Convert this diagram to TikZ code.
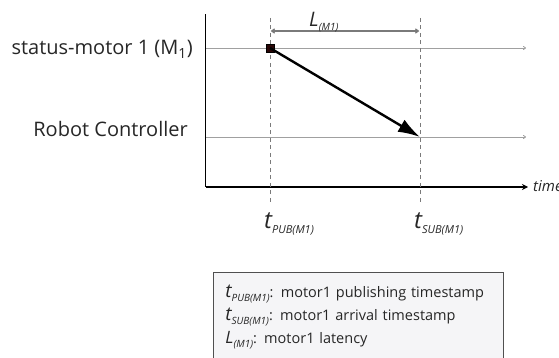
\documentclass[tikz,border=0pt]{standalone}
\usepackage{fontspec}
\setmainfont{Open Sans}
\usetikzlibrary{arrows.meta, positioning}
\definecolor{TrackGray}{HTML}{A0A0A0}
\definecolor{GuideGray}{HTML}{7A7A7A}
\definecolor{MarkBrown}{HTML}{2A0606}
\definecolor{BoxFill}{HTML}{F5F5F7}
\definecolor{BoxEdge}{HTML}{505050}
\hyphenpenalty=10000
% base letter, subscript, base size, subscript size, drop
\newcommand{\tsub}[5]{{\fontsize{#3}{#3}\selectfont\itshape #1}%
  \raisebox{-#5}{\fontsize{#4}{#4}\selectfont\itshape #2}}

\begin{document}
\begin{tikzpicture}[x=1pt, y=-1pt,
  actor/.style={anchor=base east, inner sep=0pt, font=\fontsize{20}{24}\selectfont, text=black!85},
  stamp/.style={anchor=base west, inner sep=0pt, text=black!85},
  track/.style={-{To[length=3pt, width=4pt]}, color=TrackGray, line width=0.8pt},
  axis/.style={-{Stealth[length=6pt, width=6pt]}, line width=1.3pt, black},
  guide/.style={color=GuideGray, line width=0.8pt, dash pattern=on 4pt off 3.5pt},
  span/.style={{To[length=4pt, width=5pt]}-{To[length=4pt, width=5pt]}, color=GuideGray, line width=1.2pt},
  msg/.style={-{Latex[length=22pt, width=14pt]}, line width=2.4pt, black},
  legend/.style={draw=BoxEdge, fill=BoxFill, line width=0.8pt, anchor=north west,
    align=left, text width=266pt, inner xsep=12pt, inner ysep=13pt,
    font=\fontsize{14.5}{23}\selectfont, text=black!85}
]
\useasboundingbox (0,0) rectangle (559,358);

% axes
\coordinate (origin) at (205.5,187);
\coordinate (ytop)   at (205.5,14);
\coordinate (xend)   at (528,187);
\draw[line width=1.3pt] (origin) -- (ytop);
\draw[axis] (origin) -- (xend);
\node[anchor=base west, inner sep=0pt, font=\fontsize{15}{16}\itshape\selectfont, text=black!85] (time) at (533,192) {time};

% tracks
\node[actor] (motor) at (193,55) {status-motor 1 (M\textsubscript{1})};
\node[actor] (robot) at (188,137) {Robot Controller};
\coordinate (motorA) at (206,48);
\coordinate (motorB) at (526,48);
\coordinate (robotA) at (206,137);
\coordinate (robotB) at (526,137);
\draw[track] (motorA) -- (motorB);
\draw[track] (robotA) -- (robotB);

% timestamps
\coordinate (pubtop) at (270,18);
\coordinate (pubbot) at (270,204);
\coordinate (subtop) at (420,18);
\coordinate (subbot) at (420,204);
\draw[guide] (pubtop) -- (pubbot);
\draw[guide] (subtop) -- (subbot);
\node[stamp] (tpub) at (264,228) {\tsub{t}{PUB(M1)}{24}{11}{5pt}};
\node[stamp] (tsub) at (414,228) {\tsub{t}{SUB(M1)}{24}{11}{5pt}};

% latency
\coordinate (latA) at (271,31);
\coordinate (latB) at (419,31);
\draw[span] (latA) -- (latB);
\node[stamp] (lat) at (309,27) {\tsub{L}{(M1)}{20}{10}{4pt}};

% message
\node[fill=MarkBrown, draw=black, minimum size=8pt, inner sep=0pt] (pub) at (270,48) {};
\coordinate (arrive) at (420,137);
\draw[msg] (pub.center) -- (arrive);

% legend
\node[legend] (key) at (213,272) {%
  \tsub{t}{PUB(M1)}{19}{10}{4pt}: motor1 publishing timestamp\\
  \tsub{t}{SUB(M1)}{19}{10}{4pt}: motor1 arrival timestamp\\
  \tsub{L}{(M1)}{17}{10}{4pt}: motor1 latency};
\end{tikzpicture}
\end{document}
